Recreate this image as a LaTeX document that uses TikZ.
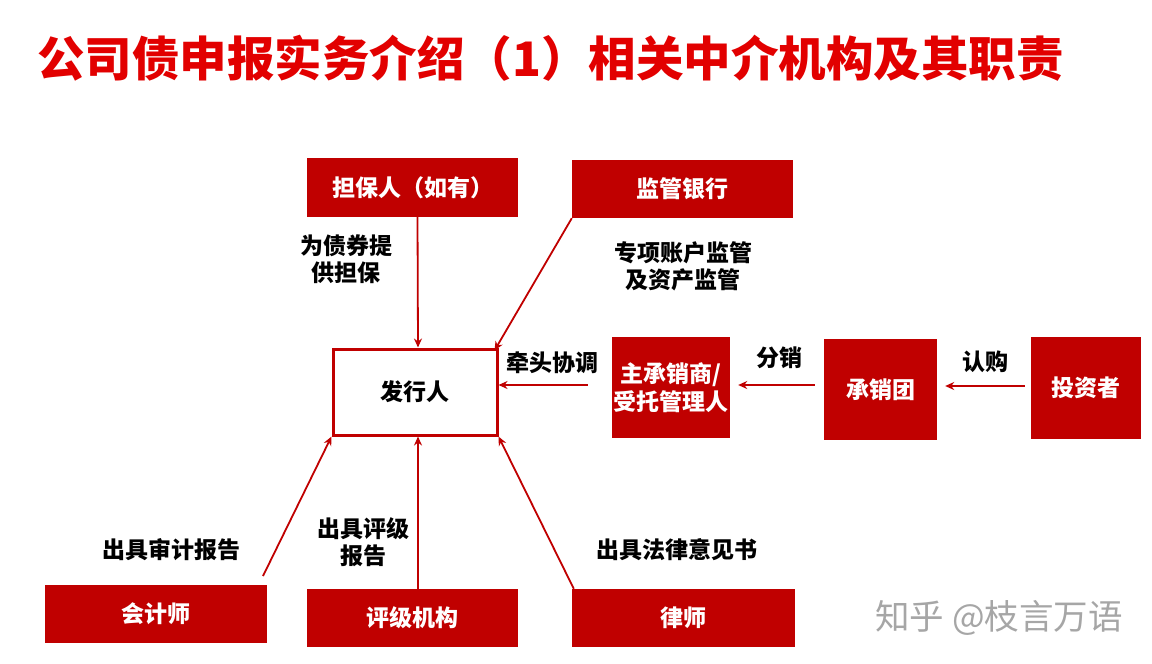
\documentclass[tikz,border=0pt]{standalone}
\usepackage{fontspec}
\setmainfont{Noto Sans CJK SC}
\usetikzlibrary{arrows.meta}
\definecolor{boxred}{RGB}{192,0,0}
\definecolor{titlered}{RGB}{226,0,0}
\tikzset{
  redbox/.style={fill=boxred, draw=none, text=white, font=\bfseries\fontsize{23}{28}\selectfont, align=center, inner sep=0pt},
  issuerbox/.style={fill=white, draw=boxred, line width=3pt, font=\bfseries\fontsize{23}{28}\selectfont, align=center, inner sep=0pt},
  lbl/.style={font=\bfseries\fontsize{23}{27}\selectfont, align=center, inner sep=0pt},
  conn/.style={draw=boxred, line width=1.8pt, -{Stealth[length=9pt,width=8pt]}},
}
\begin{document}
\begin{tikzpicture}[x=1pt,y=-1pt]
\useasboundingbox (0,0) rectangle (1152,664);
\fill[white] (0,0) rectangle (1152,664);
\node[font=\bfseries\fontsize{47.5}{52}\selectfont, text=titlered, anchor=west, inner sep=0pt] (title) at (37,58) {公司债申报实务介绍（1）相关中介机构及其职责};

\node[redbox, minimum width=211pt, minimum height=59pt] (danbao) at (412.5,187.5) {担保人（如有）};
\node[redbox, minimum width=221pt, minimum height=58pt] (bank) at (682.5,189) {监管银行};
\node[issuerbox, minimum width=164pt, minimum height=86pt] (issuer) at (415,392) {发行人};
\node[redbox, minimum width=118pt, minimum height=101pt] (zc) at (671,387.5) {主承销商/\\受托管理人};
\node[redbox, minimum width=113pt, minimum height=101pt] (cxt) at (880.5,389.5) {承销团};
\node[redbox, minimum width=110pt, minimum height=102pt] (inv) at (1086,388) {投资者};
\node[redbox, minimum width=222pt, minimum height=58pt] (kj) at (156,614) {会计师};
\node[redbox, minimum width=211pt, minimum height=58pt] (pj) at (412.5,618) {评级机构};
\node[redbox, minimum width=223pt, minimum height=58pt] (ls) at (683.5,618) {律师};

\coordinate (kjstart) at (263,576);
\draw[conn] ([xshift=5pt]danbao.south) -- ([xshift=3pt]issuer.north);
\draw[conn] (bank.south west) -- ([xshift=-4pt,yshift=-3pt]issuer.north east);
\draw[conn, shorten <=24pt] (zc.west |- 0,385) -- (issuer.east |- 0,385);
\draw[conn, shorten <=9pt, shorten >=8pt] (cxt.west |- 0,385) -- (zc.east |- 0,385);
\draw[conn, shorten <=6pt, shorten >=8pt] (inv.west |- 0,386) -- (cxt.east |- 0,386);
\draw[conn] (kjstart) -- (issuer.south west);
\draw[conn] ([xshift=5.5pt]pj.north) -- ([xshift=3pt]issuer.south);
\draw[conn] ([xshift=2pt]ls.north west) -- (issuer.south east);

\node[lbl] (l1) at (346,259) {为债券提\\供担保};
\node[lbl] (l2) at (683,266) {专项账户监管\\及资产监管};
\node[lbl] (l3) at (552,363) {牵头协调};
\node[lbl] (l4) at (779,358) {分销};
\node[lbl] (l5) at (985,362) {认购};
\node[lbl] (l6) at (171,550) {出具审计报告};
\node[lbl] (l7) at (363,542) {出具评级\\报告};
\node[lbl] (l8) at (677,550) {出具法律意见书};

\node[font=\fontsize{34.5}{38}\selectfont, text=black!35, inner sep=0pt] (wm) at (999,618) {知乎 @枝言万语};
\end{tikzpicture}
\end{document}
